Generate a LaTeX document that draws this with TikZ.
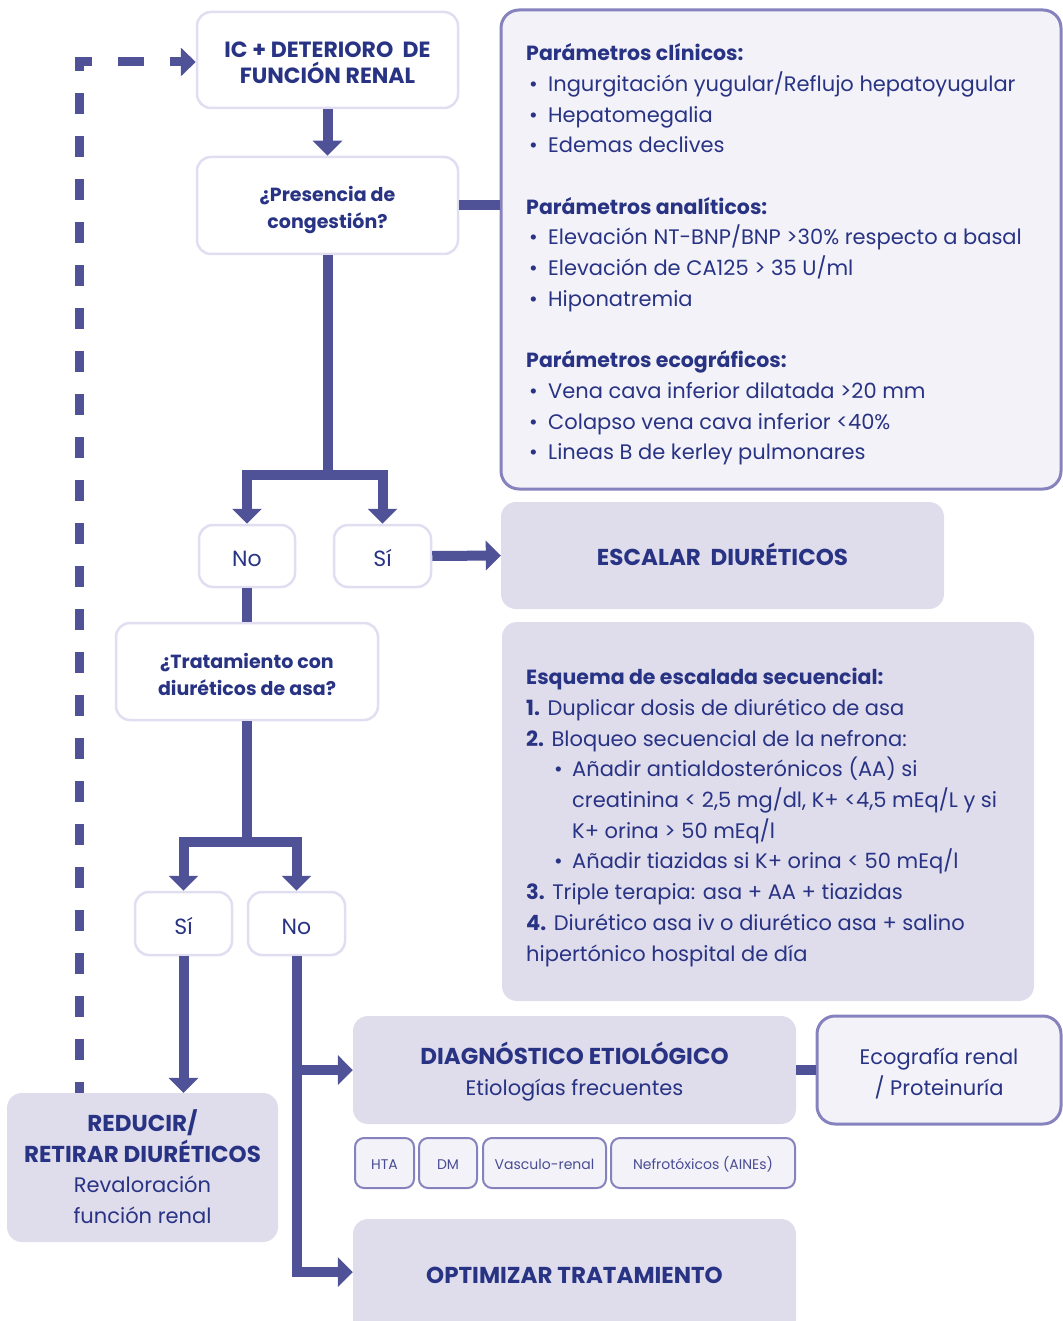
\documentclass[tikz,border=0pt]{standalone}
\usepackage{fontspec}
\setmainfont{Poppins}
\usetikzlibrary{arrows.meta,calc}

\definecolor{ink}{RGB}{40,51,132}
\definecolor{flow}{RGB}{80,82,152}
\definecolor{taginkc}{RGB}{72,76,148}
\definecolor{lav}{RGB}{223,220,236}
\definecolor{pale}{RGB}{243,242,248}
\definecolor{edge}{RGB}{134,130,190}
\definecolor{soft}{RGB}{224,222,240}

\newcommand\bodyfont{\fontsize{21}{30.7}\selectfont}
\newcommand\headfont{\bfseries\fontsize{19}{26.7}\selectfont}
\newcommand\titlefont{\bfseries\fontsize{22}{26.7}\selectfont}
\newcommand\capsfont{\bfseries\fontsize{23}{30.7}\selectfont}
\newcommand\answerfont{\fontsize{22}{26}\selectfont}
\newcommand\tagfont{\fontsize{14}{16}\selectfont}
\newcommand\hd[1]{{\bfseries\fontsize{20.5}{30.7}\selectfont #1}}
\newcommand\bul{\hspace*{3pt}\makebox[19pt][l]{\textbullet}}
\newcommand\subbul{\hspace*{28pt}\makebox[18pt][l]{\textbullet}}
% fixed first-line height / last-line depth, so text sits where wanted
\newcommand\tp[1]{\rule{0pt}{#1pt}}
\newcommand\bt[1]{\rule[-#1pt]{0pt}{#1pt}}

\tikzset{
  base/.style={inner sep=0pt, text=ink, align=center},
  whitebox/.style={base, draw=soft, line width=2.5pt, fill=white, rounded corners=14pt},
  lavbox/.style={base, fill=lav, rounded corners=15pt},
  palebox/.style={base, draw=edge, line width=3pt, fill=pale, rounded corners=18pt},
  tagbox/.style={base, draw=edge, line width=2pt, fill=pale, rounded corners=9pt, font=\tagfont, text=taginkc},
  shaft/.style={draw=flow, line width=10pt},
  arrowline/.style={shaft, -{Triangle[width=29pt,length=15pt]}},
  dashline/.style={draw=flow, line width=9pt},
}

\begin{document}
\begin{tikzpicture}[x=1pt, y=-1pt]
\useasboundingbox (0,0) rectangle (1062,1321);

% ---- main question boxes
\node[whitebox, minimum width=261pt, minimum height=96pt, font=\titlefont] (ic) at (327.5,60)
  {\tp{28.8}IC + DETERIORO\ \ DE\\FUNCIÓN RENAL\bt{8}};
\node[whitebox, minimum width=261pt, minimum height=97pt, font=\headfont] (pres) at (327.5,205.5)
  {\tp{27.3}¿Presencia de\\congestión?\bt{8}};

% ---- congestion parameters
\node[palebox, minimum width=560pt, minimum height=479pt] (params) at (781,249.5) {};
\node[base, anchor=north west, align=left, font=\bodyfont] (paramtext) at (526,39)
  {\strut\hd{Parámetros clínicos:}\\
   \bul Ingurgitación yugular/Reflujo hepatoyugular\\
   \bul Hepatomegalia\\
   \bul Edemas declives\\[30.7pt]
   \hd{Parámetros analíticos:}\\
   \bul Elevación NT-BNP/BNP >30\% respecto a basal\\
   \bul Elevación de CA125 > 35 U/ml\\
   \bul Hiponatremia\\[30.7pt]
   \hd{Parámetros ecográficos:}\\
   \bul Vena cava inferior dilatada >20 mm\\
   \bul Colapso vena cava inferior <40\%\\
   \bul Lineas B de kerley pulmonares};

% ---- first answer pair
\node[whitebox, minimum width=96pt, minimum height=62pt, font=\answerfont] (no1) at (247,556) {\tp{27.4}No\bt{6}};
\node[whitebox, minimum width=97pt, minimum height=62pt, font=\answerfont] (si1) at (382.5,556) {\tp{27.4}Sí\bt{6}};

\node[lavbox, minimum width=443pt, minimum height=107pt, font=\capsfont] (esc) at (722.5,555.5)
  {\tp{28}ESCALAR\ \ DIURÉTICOS\bt{8}};

% ---- loop diuretic question
\node[whitebox, minimum width=262pt, minimum height=97pt, font=\headfont] (trat) at (247,671.5)
  {\tp{28.9}¿Tratamiento con\\diuréticos de asa?\bt{8}};

% ---- sequential escalation scheme
\node[lavbox, minimum width=532pt, minimum height=379pt] (scheme) at (768,811.5) {};
\node[base, anchor=north west, align=left, font=\bodyfont] (schemetext) at (526,663)
  {\strut\hd{Esquema de escalada secuencial:}\\
   \textbf{1.} Duplicar dosis de diurético de asa\\
   \textbf{2.} Bloqueo secuencial de la nefrona:\\
   \subbul Añadir antialdosterónicos (AA) si\\
   \hspace*{46pt}creatinina < 2,5 mg/dl, K+ <4,5 mEq/L y si\\
   \hspace*{46pt}K+ orina > 50 mEq/l\\
   \subbul Añadir tiazidas si K+ orina < 50 mEq/l\\
   \textbf{3.} Triple terapia: asa + AA + tiazidas\\
   \textbf{4.} Diurético asa iv o diurético asa + salino\\
   hipertónico hospital de día};

% ---- second answer pair
\node[whitebox, minimum width=97pt, minimum height=63pt, font=\answerfont] (si2) at (183.5,923.5) {\tp{27.4}Sí\bt{6}};
\node[whitebox, minimum width=97pt, minimum height=63pt, font=\answerfont] (no2) at (296.5,923.5) {\tp{27.4}No\bt{6}};

% ---- outcomes
\node[lavbox, minimum width=271pt, minimum height=149pt, font=\bodyfont] (red) at (142.5,1167.5)
  {\tp{28}{\capsfont REDUCIR/}\\
   {\capsfont RETIRAR DIURÉTICOS}\\
   Revaloración\\función renal\bt{8}};

\node[lavbox, minimum width=443pt, minimum height=108pt, font=\bodyfont] (diag) at (574.5,1070)
  {\tp{28.5}{\capsfont DIAGNÓSTICO ETIOLÓGICO}\\Etiologías frecuentes\bt{8}};
\node[palebox, minimum width=244pt, minimum height=108pt, font=\bodyfont] (eco) at (939,1070)
  {\tp{27.7}Ecografía renal\\/ Proteinuría\bt{8}};

\node[tagbox, minimum width=59pt, minimum height=50pt] (hta) at (384.5,1163) {\tp{18.8}HTA\bt{5}};
\node[tagbox, minimum width=58pt, minimum height=50pt] (dm) at (448,1163) {\tp{18.8}DM\bt{5}};
\node[tagbox, minimum width=123pt, minimum height=50pt] (vas) at (544.5,1163) {\tp{18.8}Vasculo-renal\bt{5}};
\node[tagbox, minimum width=184pt, minimum height=50pt] (nef) at (703,1163) {\tp{18.8}Nefrotóxicos (AINEs)\bt{5}};

\node[lavbox, minimum width=443pt, minimum height=116pt, font=\capsfont] (opt) at (574.5,1277)
  {\tp{28}OPTIMIZAR TRATAMIENTO\bt{16}};

% ---- connectors
\coordinate (j1) at (327.5,475);
\coordinate (j2) at (247,841.5);
\coordinate (dcorner) at (79,62);

\draw[arrowline] (ic.south) -- (pres.north);
\draw[shaft] (pres.east) -- (pres.east -| params.west);
\draw[shaft] (pres.south) -- (j1);
\draw[arrowline] (j1) -| (no1.north);
\draw[arrowline] (j1) -| (si1.north);
\draw[arrowline] (si1.east) -- (esc.west);

\draw[shaft] (no1.south) -- (trat.north);
\draw[shaft] (trat.south) -- (j2);
\draw[arrowline] (j2) -| (si2.north);
\draw[arrowline] (j2) -| (no2.north);

\draw[arrowline] (si2.south) -- (si2.south |- red.north);
\draw[arrowline] (no2.south) |- ([yshift=5pt]opt.west);
\draw[arrowline] (no2.south |- diag.west) -- (diag.west);
\draw[shaft] (diag.east) -- (eco.west);

% ---- dashed feedback loop back to the start
\draw[dashline, dash pattern=on 21pt off 22pt, dash phase=10pt] (red.north -| dcorner) -- (dcorner);
\draw[dashline, dash pattern=on 17.5pt off 26pt on 26pt off 26pt on 30pt off 0pt,
      -{Triangle[width=28pt,length=15pt]}] ([xshift=-4.5pt]dcorner) -- (dcorner -| ic.west);
\end{tikzpicture}
\end{document}
